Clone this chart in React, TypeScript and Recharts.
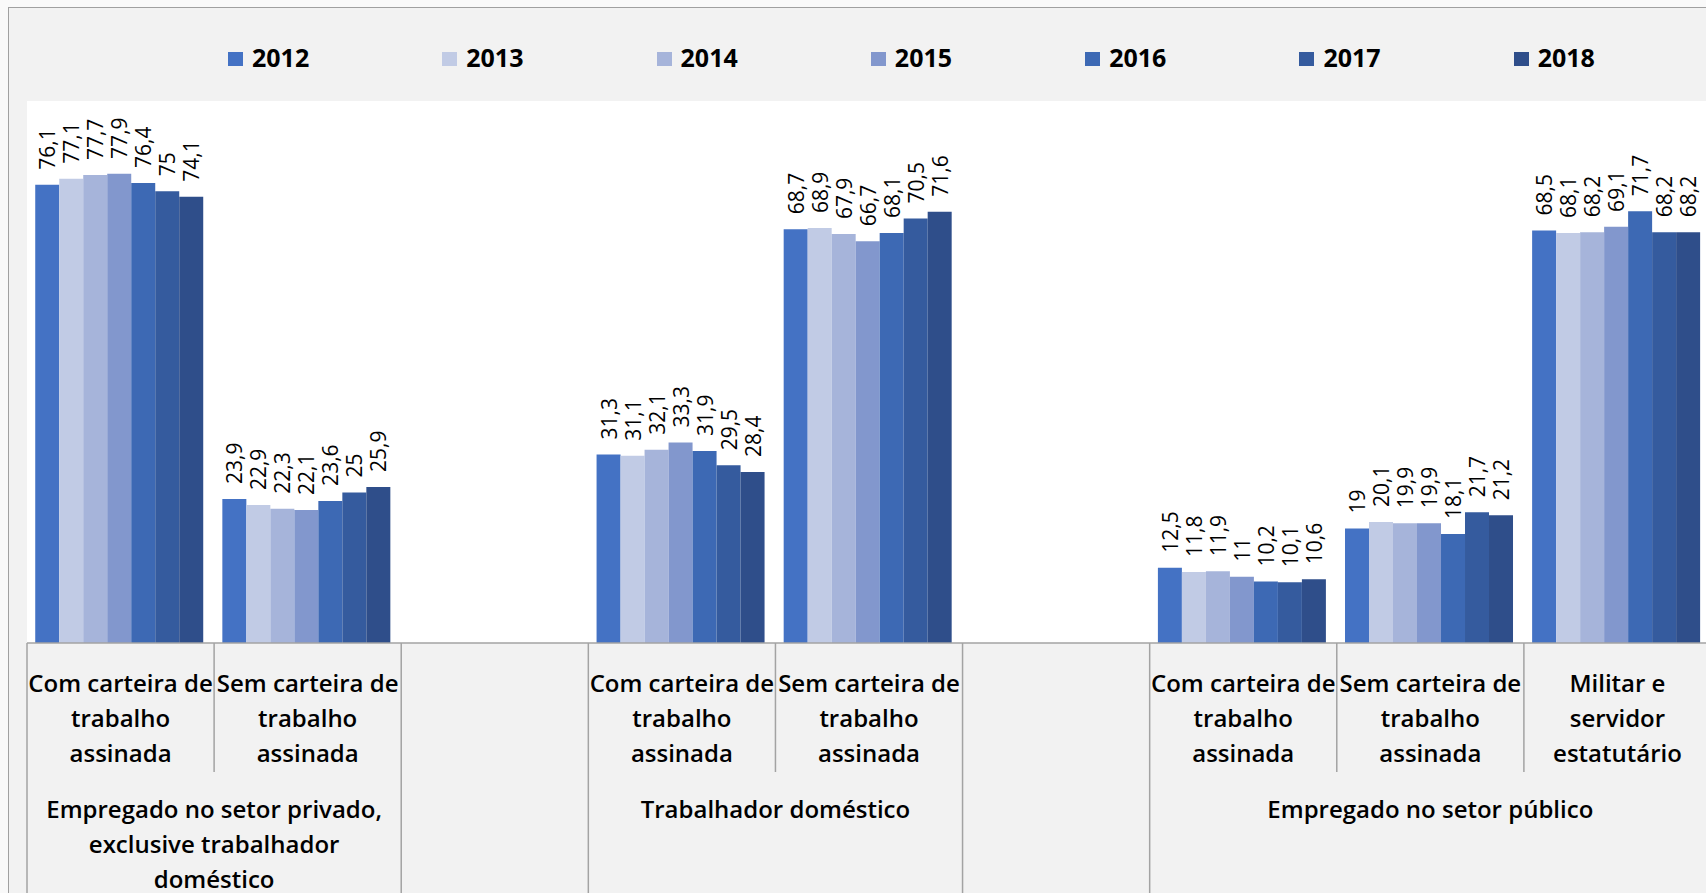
import React from "react";
import { BarChart, Bar, XAxis, YAxis, Legend, LabelList, CartesianGrid } from "recharts";

const years = ["2012", "2013", "2014", "2015", "2016", "2017", "2018"];
const colors = ["#4472C4", "#C1CBE5", "#A6B4DA", "#8297CD", "#3D69B4", "#355B9E", "#2F4E8A"];

const categoryKeys = ["c0", "c1", "c2", "c3", "c4", "c5", "c6", "c7", "c8"];
const subLabels = [
  "Com carteira de\ntrabalho\nassinada",
  "Sem carteira de\ntrabalho\nassinada",
  "",
  "Com carteira de\ntrabalho\nassinada",
  "Sem carteira de\ntrabalho\nassinada",
  "",
  "Com carteira de\ntrabalho\nassinada",
  "Sem carteira de\ntrabalho\nassinada",
  "Militar e\nservidor\nestatutário",
];
// group label, first category index, number of categories
const groups = [
  { label: "Empregado no setor privado,\nexclusive trabalhador\ndoméstico", start: 0, span: 2 },
  { label: "", start: 2, span: 1 },
  { label: "Trabalhador doméstico", start: 3, span: 2 },
  { label: "", start: 5, span: 1 },
  { label: "Empregado no setor público", start: 6, span: 3 },
];

const v2012 = [76.1, 23.9, null, 31.3, 68.7, null, 12.5, 19, 68.5];
const v2013 = [77.1, 22.9, null, 31.1, 68.9, null, 11.8, 20.1, 68.1];
const v2014 = [77.7, 22.3, null, 32.1, 67.9, null, 11.9, 19.9, 68.2];
const v2015 = [77.9, 22.1, null, 33.3, 66.7, null, 11, 19.9, 69.1];
const v2016 = [76.4, 23.6, null, 31.9, 68.1, null, 10.2, 18.1, 71.7];
const v2017 = [75, 25, null, 29.5, 70.5, null, 10.1, 21.7, 68.2];
const v2018 = [74.1, 25.9, null, 28.4, 71.6, null, 10.6, 21.2, 68.2];
const series = [v2012, v2013, v2014, v2015, v2016, v2017, v2018];

const data = categoryKeys.map((key, i) => {
  const row: any = { key };
  years.forEach((yr, s) => {
    row[yr] = series[s][i];
  });
  return row;
});

const CHART_W = 1711;
const CHART_H = 893;
const MARGIN = { top: 101, right: 0, bottom: 0, left: 27 };
const BAND = (CHART_W - MARGIN.left - MARGIN.right) / categoryKeys.length;
const FONT = "Open Sans";
const LINE_COLOR = "#a3a3a3";

const BarValueLabel = (props: any) => {
  const { x, y, width, value } = props;
  if (value == null) return null;
  const cx = x + width / 2;
  const ty = y - 15;
  return (
    <text
      x={cx}
      y={ty}
      transform={`rotate(-90 ${cx} ${ty})`}
      textAnchor="start"
      dominantBaseline="central"
      fontSize={21}
      fontFamily={FONT}
      fill="#000"
    >
      {String(value).replace(".", ",")}
    </text>
  );
};

const CategoryTick = (props: any) => {
  const { x, y, payload } = props;
  const i = payload.index;
  const group = groups.find((g) => g.start === i);
  const left = x - BAND / 2;
  const lines = subLabels[i] ? subLabels[i].split("\n") : [];
  return (
    <g>
      <line x1={left} y1={y} x2={left} y2={y + (group ? 250 : 129)} stroke={LINE_COLOR} strokeWidth={1.5} />
      {lines.map((ln, k) => (
        <text
          key={k}
          x={x}
          y={y + 39 + k * 35}
          textAnchor="middle"
          dominantBaseline="central"
          fontSize={24}
          fontWeight={600}
          fontFamily={FONT}
          fill="#000"
        >
          {ln}
        </text>
      ))}
      {group && group.label
        ? group.label.split("\n").map((ln, k) => (
            <text
              key={"g" + k}
              x={x + ((group.span - 1) / 2) * BAND}
              y={y + 165 + k * 35}
              textAnchor="middle"
              dominantBaseline="central"
              fontSize={24}
              fontWeight={600}
              fontFamily={FONT}
              fill="#000"
            >
              {ln}
            </text>
          ))
        : null}
    </g>
  );
};

const LegendContent = () => (
  <div style={{ display: "flex", fontFamily: FONT, fontWeight: 700, fontSize: 25, color: "#000" }}>
    {years.map((yr, i) => (
      <div key={yr} style={{ width: 214.3, display: "flex", alignItems: "center", height: 36 }}>
        <span style={{ width: 15, height: 14, background: colors[i], marginRight: 9, marginTop: 3 }} />
        <span>{yr}</span>
      </div>
    ))}
  </div>
);

export default function App() {
  return (
    <div
      style={{
        position: "absolute",
        left: 0,
        top: 0,
        width: 1706,
        height: 893,
        overflow: "hidden",
        background: "#f9f9f9",
      }}
    >
      <div
        style={{
          position: "absolute",
          left: 8,
          top: 7,
          width: 1740,
          height: 950,
          border: "1px solid #a0a0a0",
          background: "#f2f2f2",
        }}
      />
      <div style={{ position: "absolute", left: 0, top: 0 }}>
        <BarChart
          width={CHART_W}
          height={CHART_H}
          data={data}
          margin={MARGIN}
          barCategoryGap="4.4%"
          barGap={0}
        >
          <CartesianGrid horizontal={false} vertical={false} fill="#ffffff" />
          <YAxis hide domain={[0, 90]} />
          <XAxis
            dataKey="key"
            interval={0}
            height={250}
            tickLine={false}
            tickSize={0}
            tickMargin={0}
            axisLine={{ stroke: LINE_COLOR, strokeWidth: 1.5 }}
            tick={<CategoryTick />}
          />
          <Legend
            layout="horizontal"
            verticalAlign="middle"
            align="center"
            content={<LegendContent />}
            wrapperStyle={{ top: 39, left: 228, width: 1500, height: 36 }}
          />
          {years.map((yr, i) => (
            <Bar key={yr} dataKey={yr} fill={colors[i]} isAnimationActive={false}>
              <LabelList dataKey={yr} content={<BarValueLabel />} />
            </Bar>
          ))}
        </BarChart>
      </div>
    </div>
  );
}
